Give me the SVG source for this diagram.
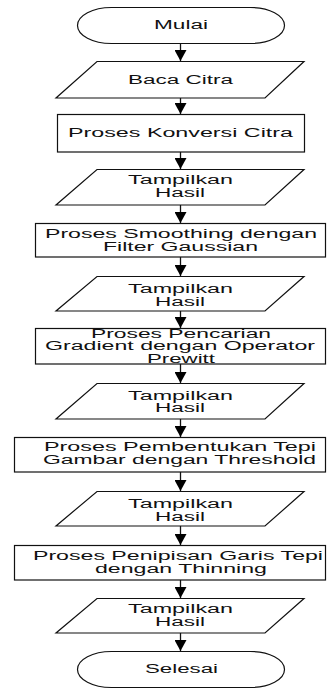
<svg xmlns="http://www.w3.org/2000/svg" width="336" height="689" viewBox="0 0 336 689">
<style>
.shape{fill:#fff;stroke:#111;stroke-width:1.2}
.t{font-family:"Liberation Sans",Arial,sans-serif;font-size:12px;fill:#111;text-anchor:middle}
.conn line{stroke:#111;stroke-width:1.3}
</style>
<defs>
<marker id="ah" markerUnits="userSpaceOnUse" markerWidth="12" markerHeight="12" refX="11" refY="6" orient="auto">
<path d="M0,0 L11,6 L0,12 z" fill="#000"/>
</marker>
</defs>
<rect width="336" height="689" fill="#fff"/>
<g id="connectors" class="conn">
<line x1="180.5" y1="43" x2="180.5" y2="61" marker-end="url(#ah)"/>
<line x1="180.5" y1="98" x2="180.5" y2="114" marker-end="url(#ah)"/>
<line x1="180.5" y1="152" x2="180.5" y2="169" marker-end="url(#ah)"/>
<line x1="180.5" y1="205" x2="180.5" y2="223" marker-end="url(#ah)"/>
<line x1="180.5" y1="257" x2="180.5" y2="276" marker-end="url(#ah)"/>
<line x1="180.5" y1="311" x2="180.5" y2="328" marker-end="url(#ah)"/>
<line x1="180.5" y1="364" x2="180.5" y2="383" marker-end="url(#ah)"/>
<line x1="180.5" y1="419" x2="180.5" y2="437" marker-end="url(#ah)"/>
<line x1="180.5" y1="472" x2="180.5" y2="491" marker-end="url(#ah)"/>
<line x1="180.5" y1="526" x2="180.5" y2="545" marker-end="url(#ah)"/>
<line x1="180.5" y1="580" x2="180.5" y2="598" marker-end="url(#ah)"/>
<line x1="180.5" y1="633" x2="180.5" y2="651" marker-end="url(#ah)"/>
</g>
<g id="start">
<rect class="shape" x="77.5" y="7.5" width="207" height="36" rx="34" ry="18"/>
<text class="t" x="181" y="29" textLength="54" lengthAdjust="spacingAndGlyphs">Mulai</text>
</g>
<g id="baca">
<polygon class="shape" points="97,61.5 304,61.5 265,98 56,98"/>
<text class="t" x="180.5" y="84" textLength="105" lengthAdjust="spacingAndGlyphs">Baca Citra</text>
</g>
<g id="konversi">
<rect class="shape" x="57.5" y="114.5" width="247" height="37.5"/>
<text class="t" x="180.5" y="137" textLength="225" lengthAdjust="spacingAndGlyphs">Proses Konversi Citra</text>
</g>
<g id="hasil1">
<polygon class="shape" points="97,169.5 304,169.5 265,205 56,205"/>
<text class="t" x="180.5" y="183.5" textLength="105" lengthAdjust="spacingAndGlyphs">Tampilkan</text>
<text class="t" x="180" y="196.5" textLength="50" lengthAdjust="spacingAndGlyphs">Hasil</text>
</g>
<g id="smoothing">
<rect class="shape" x="35.5" y="223.5" width="290" height="33.5"/>
<text class="t" x="181" y="237.5" textLength="272" lengthAdjust="spacingAndGlyphs">Proses Smoothing dengan</text>
<text class="t" x="180.5" y="250.5" textLength="155" lengthAdjust="spacingAndGlyphs">Filter Gaussian</text>
</g>
<g id="hasil2">
<polygon class="shape" points="97,276.5 304,276.5 265,311 56,311"/>
<text class="t" x="180.5" y="292.5" textLength="105" lengthAdjust="spacingAndGlyphs">Tampilkan</text>
<text class="t" x="180" y="305.5" textLength="50" lengthAdjust="spacingAndGlyphs">Hasil</text>
</g>
<g id="gradient">
<rect class="shape" x="35.5" y="328.5" width="290" height="35.5"/>
<text class="t" x="181" y="337.5" textLength="180" lengthAdjust="spacingAndGlyphs">Proses Pencarian</text>
<text class="t" x="180" y="350" textLength="270" lengthAdjust="spacingAndGlyphs">Gradient dengan Operator</text>
<text class="t" x="181" y="362.5" textLength="68" lengthAdjust="spacingAndGlyphs">Prewitt</text>
</g>
<g id="hasil3">
<polygon class="shape" points="97,383.5 304,383.5 265,419 56,419"/>
<text class="t" x="180.5" y="399.5" textLength="105" lengthAdjust="spacingAndGlyphs">Tampilkan</text>
<text class="t" x="180" y="412" textLength="50" lengthAdjust="spacingAndGlyphs">Hasil</text>
</g>
<g id="threshold">
<rect class="shape" x="14.5" y="437.5" width="311" height="34.5"/>
<text class="t" x="180" y="451" textLength="272" lengthAdjust="spacingAndGlyphs">Proses Pembentukan Tepi</text>
<text class="t" x="179.5" y="464" textLength="273" lengthAdjust="spacingAndGlyphs">Gambar dengan Threshold</text>
</g>
<g id="hasil4">
<polygon class="shape" points="97,491.5 304,491.5 265,526 56,526"/>
<text class="t" x="180.5" y="507.5" textLength="105" lengthAdjust="spacingAndGlyphs">Tampilkan</text>
<text class="t" x="180" y="520.5" textLength="50" lengthAdjust="spacingAndGlyphs">Hasil</text>
</g>
<g id="thinning">
<rect class="shape" x="14.5" y="545.5" width="311" height="34.5"/>
<text class="t" x="178" y="559.5" textLength="290" lengthAdjust="spacingAndGlyphs">Proses Penipisan Garis Tepi</text>
<text class="t" x="181" y="572.5" textLength="172" lengthAdjust="spacingAndGlyphs">dengan Thinning</text>
</g>
<g id="hasil5">
<polygon class="shape" points="97,598.5 304,598.5 265,633 56,633"/>
<text class="t" x="180.5" y="612.5" textLength="105" lengthAdjust="spacingAndGlyphs">Tampilkan</text>
<text class="t" x="180" y="625.5" textLength="50" lengthAdjust="spacingAndGlyphs">Hasil</text>
</g>
<g id="end">
<rect class="shape" x="77.5" y="651.5" width="207" height="36" rx="34" ry="18"/>
<text class="t" x="181.5" y="673" textLength="73" lengthAdjust="spacingAndGlyphs">Selesai</text>
</g>
</svg>
